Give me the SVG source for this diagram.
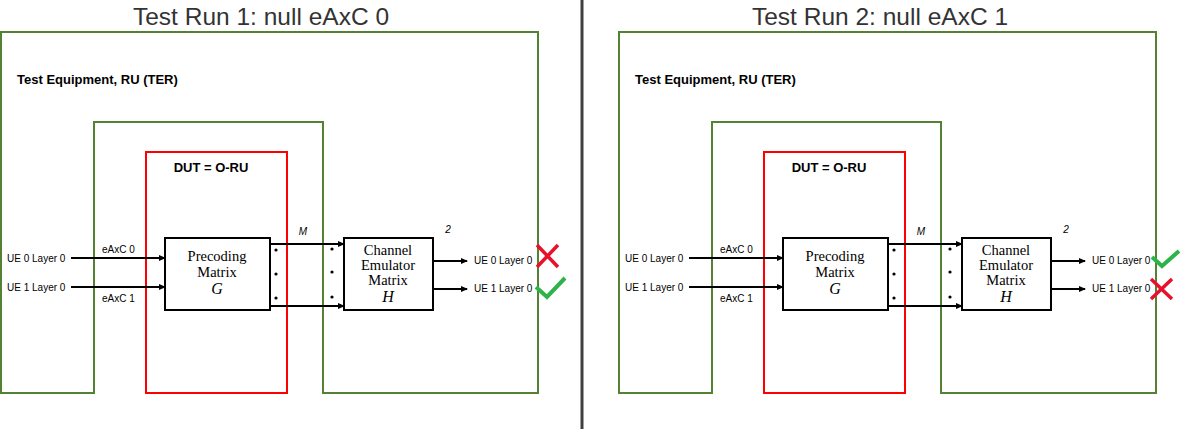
<svg xmlns="http://www.w3.org/2000/svg" width="1184" height="429" viewBox="0 0 1184 429">
<style>
.title{font-family:"Liberation Sans",Arial,sans-serif;font-size:24.5px;fill:#333;text-anchor:middle}
.hdr{font-family:"Liberation Sans",Arial,sans-serif;font-size:13px;font-weight:bold;fill:#000}
.lbl{font-family:"Liberation Sans",Arial,sans-serif;font-size:10px;fill:#000}
.it{font-family:"Liberation Sans",Arial,sans-serif;font-size:10px;font-style:italic;fill:#000;text-anchor:middle}
.box{fill:#fff;stroke:#000;stroke-width:2}
.bt{font-family:"Liberation Serif","Times New Roman",serif;font-size:14.5px;fill:#000;text-anchor:middle}
.bi{font-family:"Liberation Serif","Times New Roman",serif;font-size:16px;font-style:italic;fill:#000;text-anchor:middle}
.ter{fill:none;stroke:#548235;stroke-width:2}
.dut{fill:none;stroke:#ff0000;stroke-width:2}
.wire{fill:none;stroke:#000;stroke-width:2;marker-end:url(#ah)}
.dot{fill:#000}
.xm{fill:none;stroke:#e8112d;stroke-width:3.5;stroke-linecap:butt}
.ok{fill:none;stroke:#2db34a;stroke-width:4;stroke-linejoin:miter}
</style>
<defs>
<marker id="ah" markerWidth="7" markerHeight="6" refX="6" refY="3" orient="auto" markerUnits="userSpaceOnUse">
<path d="M0,0 L7,3 L0,6 Z" fill="#000"/>
</marker>
</defs>
<rect width="1184" height="429" fill="#fff"/>
<line id="divider" x1="582" y1="0" x2="582" y2="429" stroke="#404040" stroke-width="3"/>

<g id="run1">
<text class="title" x="261" y="25">Test Run 1: null eAxC 0</text>
<g id="ter1"><path class="ter" d="M94,393 H1 V32 H538 V393 H323 V122 H94 Z"/>
<text class="hdr" x="17" y="84">Test Equipment, RU (TER)</text></g>
<g id="dut1"><rect class="dut" x="146" y="152" width="141" height="241"/>
<text class="hdr" x="211" y="172" text-anchor="middle">DUT = O-RU</text></g>
<g id="precoding1"><rect class="box" x="165" y="238" width="105" height="72"/>
<text class="bt" x="217" y="261">Precoding</text><text class="bt" x="217" y="277">Matrix</text><text class="bi" x="217" y="294">G</text></g>
<g id="channel1"><rect class="box" x="344" y="238" width="89" height="72"/>
<text class="bt" x="388" y="255">Channel</text><text class="bt" x="388" y="270">Emulator</text><text class="bt" x="388" y="285">Matrix</text><text class="bi" x="388" y="302">H</text></g>
<g id="connectors1">
<line class="wire" x1="71" y1="258" x2="165" y2="258"/>
<line class="wire" x1="71" y1="287" x2="165" y2="287"/>
<line class="wire" x1="270" y1="244" x2="344" y2="244"/>
<line class="wire" x1="270" y1="306" x2="344" y2="306"/>
<line class="wire" x1="433" y1="261" x2="467" y2="261"/>
<line class="wire" x1="433" y1="289" x2="467" y2="289"/>
<circle class="dot" cx="276" cy="250" r="1.6"/><circle class="dot" cx="276" cy="274" r="1.6"/><circle class="dot" cx="276" cy="298" r="1.6"/>
<circle class="dot" cx="332" cy="249" r="1.6"/><circle class="dot" cx="332" cy="272" r="1.6"/><circle class="dot" cx="332" cy="297" r="1.6"/>
<text class="lbl" x="7" y="262">UE 0 Layer 0</text>
<text class="lbl" x="7" y="291">UE 1 Layer 0</text>
<text class="lbl" x="102" y="253">eAxC 0</text>
<text class="lbl" x="102" y="302">eAxC 1</text>
<text class="it" x="303" y="235">M</text>
<text class="it" x="448" y="233">2</text>
<text class="lbl" x="474" y="264">UE 0 Layer 0</text>
<text class="lbl" x="474" y="292">UE 1 Layer 0</text>
</g>
<g id="result1">
<path class="xm" d="M537,245 L558,267 M558,245 L537,267"/>
<path class="ok" d="M536,287 L547,297 L565,278"/>
</g>
</g>

<g id="run2" transform="translate(618,0)">
<text class="title" x="262" y="25">Test Run 2: null eAxC 1</text>
<g id="ter2"><path class="ter" d="M94,393 H1 V32 H538 V393 H323 V122 H94 Z"/>
<text class="hdr" x="17" y="84">Test Equipment, RU (TER)</text></g>
<g id="dut2"><rect class="dut" x="146" y="152" width="141" height="241"/>
<text class="hdr" x="211" y="172" text-anchor="middle">DUT = O-RU</text></g>
<g id="precoding2"><rect class="box" x="165" y="238" width="105" height="72"/>
<text class="bt" x="217" y="261">Precoding</text><text class="bt" x="217" y="277">Matrix</text><text class="bi" x="217" y="294">G</text></g>
<g id="channel2"><rect class="box" x="344" y="238" width="89" height="72"/>
<text class="bt" x="388" y="255">Channel</text><text class="bt" x="388" y="270">Emulator</text><text class="bt" x="388" y="285">Matrix</text><text class="bi" x="388" y="302">H</text></g>
<g id="connectors2">
<line class="wire" x1="71" y1="258" x2="165" y2="258"/>
<line class="wire" x1="71" y1="287" x2="165" y2="287"/>
<line class="wire" x1="270" y1="244" x2="344" y2="244"/>
<line class="wire" x1="270" y1="306" x2="344" y2="306"/>
<line class="wire" x1="433" y1="261" x2="467" y2="261"/>
<line class="wire" x1="433" y1="289" x2="467" y2="289"/>
<circle class="dot" cx="276" cy="250" r="1.6"/><circle class="dot" cx="276" cy="274" r="1.6"/><circle class="dot" cx="276" cy="298" r="1.6"/>
<circle class="dot" cx="332" cy="249" r="1.6"/><circle class="dot" cx="332" cy="272" r="1.6"/><circle class="dot" cx="332" cy="297" r="1.6"/>
<text class="lbl" x="7" y="262">UE 0 Layer 0</text>
<text class="lbl" x="7" y="291">UE 1 Layer 0</text>
<text class="lbl" x="102" y="253">eAxC 0</text>
<text class="lbl" x="102" y="302">eAxC 1</text>
<text class="it" x="303" y="235">M</text>
<text class="it" x="448" y="233">2</text>
<text class="lbl" x="474" y="264">UE 0 Layer 0</text>
<text class="lbl" x="474" y="292">UE 1 Layer 0</text>
</g>
<g id="result2">
<path class="ok" d="M534,257 L544,266 L561,251"/>
<path class="xm" d="M533,279 L554,299 M554,279 L533,299"/>
</g>
</g>
</svg>
